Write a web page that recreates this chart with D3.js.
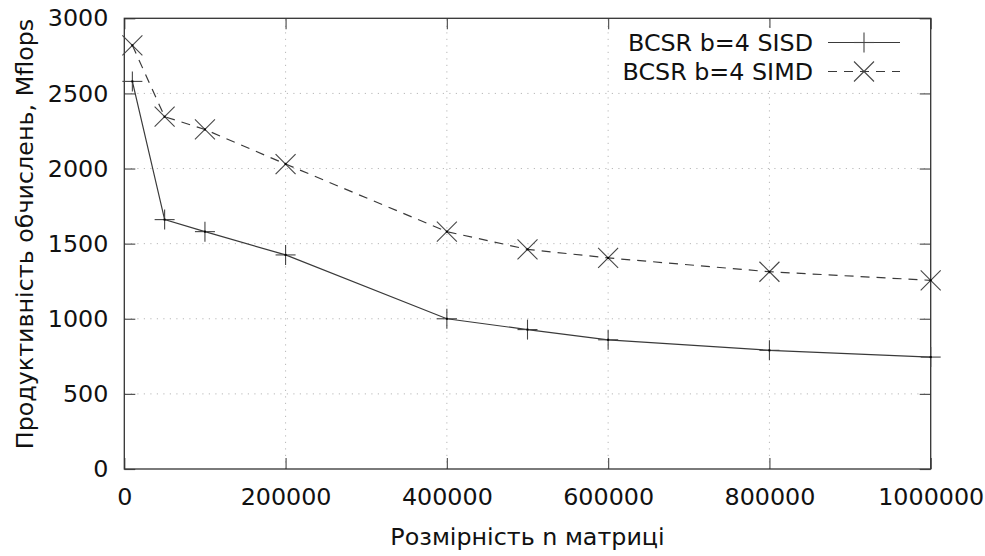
<!DOCTYPE html>
<html><head><meta charset="utf-8">
<script src="https://cdn.jsdelivr.net/npm/d3@7"></script>
<style>
html,body{margin:0;padding:0;background:#fff;}
svg{display:block;font-family:"DejaVu Sans",sans-serif;}
</style></head>
<body>
<svg id="chart" width="985" height="556"></svg>
<script>
const sizes = [10000, 50000, 100000, 200000, 400000, 500000, 600000, 800000, 1000000];
const sisd  = [2580, 1660, 1580, 1425, 1000, 928, 860, 790, 745];
const simd  = [2820, 2345, 2260, 2030, 1580, 1462, 1405, 1313, 1256];
const xTicks = [0, 200000, 400000, 600000, 800000, 1000000];
const yTicks = [0, 500, 1000, 1500, 2000, 2500, 3000];
const seriesNames = ["BCSR b=4 SISD", "BCSR b=4 SIMD"];
const xTitle = "Розмірність n матриці";
const yTitle = "Продуктивність обчислень, Mflops";

const svg = d3.select("#chart");
const L = 124.3, R = 930.7, T = 18.3, B = 469;
const x = d3.scaleLinear().domain([0, 1000000]).range([L, R]);
const y = d3.scaleLinear().domain([0, 3000]).range([B, T]);
const fs = 23.8;
const axisCol = "#333";

// grid
const grid = svg.append("g").attr("stroke", "#b8b8b8").attr("stroke-width", 1).attr("stroke-dasharray", "1.2,5.3");
xTicks.filter(t => t > 0 && t < 1000000).forEach(t => {
  grid.append("line").attr("x1", x(t)).attr("x2", x(t)).attr("y1", B).attr("y2", T);
});
yTicks.filter(t => t > 0 && t < 3000).forEach(t => {
  grid.append("line").attr("x1", L).attr("x2", R).attr("y1", y(t)).attr("y2", y(t));
});

// axes via d3 (ticks inward, mirrored)
const tk = 11;
const ax = svg.append("g");
function styleAxis(g) {
  g.select(".domain").remove();
  g.selectAll(".tick line").attr("stroke", "#555").attr("stroke-width", 1.2);
  g.selectAll(".tick text").attr("font-size", fs).attr("fill", "#111").attr("font-family", "DejaVu Sans");
}
ax.append("g").attr("transform", `translate(0,${B})`)
  .call(d3.axisBottom(x).tickValues(xTicks).tickFormat(d3.format("d")).tickSizeInner(-tk).tickSizeOuter(0).tickPadding(tk + 8))
  .call(styleAxis)
  .selectAll(".tick text").attr("dy", "0.71em");
ax.append("g").attr("transform", `translate(0,${T})`)
  .call(d3.axisTop(x).tickValues(xTicks).tickFormat("").tickSizeInner(-tk).tickSizeOuter(0))
  .call(styleAxis);
ax.append("g").attr("transform", `translate(${L},0)`)
  .call(d3.axisLeft(y).tickValues(yTicks).tickFormat(d3.format("d")).tickSizeInner(-tk).tickSizeOuter(0).tickPadding(tk + 5))
  .call(styleAxis);
ax.append("g").attr("transform", `translate(${R},0)`)
  .call(d3.axisRight(y).tickValues(yTicks).tickFormat("").tickSizeInner(-tk).tickSizeOuter(0))
  .call(styleAxis);

// border
svg.append("rect").attr("x", L).attr("y", T).attr("width", R - L).attr("height", B - T)
  .attr("fill", "none").attr("stroke", axisCol).attr("stroke-width", 1.3);

// titles
svg.append("text").attr("x", (L + R) / 2).attr("y", 545).attr("text-anchor", "middle")
  .attr("font-size", fs).attr("fill", "#111").text(xTitle);
svg.append("text").attr("transform", `translate(33,${234}) rotate(-90)`).attr("text-anchor", "middle")
  .attr("font-size", fs).attr("fill", "#111").text(yTitle);

// lines
const lineGen = d3.line().x(d => x(d[0])).y(d => y(d[1]));
const dSisd = sizes.map((s, i) => [s, sisd[i]]);
const dSimd = sizes.map((s, i) => [s, simd[i]]);
const lineCol = "#3a3a3a";
svg.append("path").attr("d", lineGen(dSimd)).attr("fill", "none").attr("stroke", lineCol)
  .attr("stroke-width", 1.2).attr("stroke-dasharray", "9,7");
svg.append("path").attr("d", lineGen(dSisd)).attr("fill", "none").attr("stroke", lineCol)
  .attr("stroke-width", 1.2);

const h = 10;
function plus(g, cx, cy) {
  g.append("line").attr("x1", cx - h).attr("x2", cx + h).attr("y1", cy).attr("y2", cy);
  g.append("line").attr("x1", cx).attr("x2", cx).attr("y1", cy - h).attr("y2", cy + h);
}
function cross(g, cx, cy) {
  g.append("line").attr("x1", cx - h).attr("x2", cx + h).attr("y1", cy - h).attr("y2", cy + h);
  g.append("line").attr("x1", cx - h).attr("x2", cx + h).attr("y1", cy + h).attr("y2", cy - h);
}
const mk = svg.append("g").attr("stroke", "#444").attr("stroke-width", 1.1);
dSisd.forEach(d => plus(mk, x(d[0]), y(d[1])));
dSimd.forEach(d => cross(mk, x(d[0]), y(d[1])));
const dots = svg.append("g").attr("fill", "#000");
dSisd.concat(dSimd).forEach(d => dots.append("rect").attr("x", x(d[0]) - 1).attr("y", y(d[1]) - 1).attr("width", 2).attr("height", 2));

// legend
const lg = svg.append("g");
lg.append("rect").attr("x", 613).attr("y", 28).attr("width", 312).attr("height", 60).attr("fill", "#fff");
const rows = [42.5, 71.5];
seriesNames.forEach((n, i) => {
  lg.append("text").attr("x", 813).attr("y", rows[i]).attr("dy", "0.35em").attr("text-anchor", "end")
    .attr("font-size", fs).attr("fill", "#111").text(n);
  const ln = lg.append("line").attr("x1", 828).attr("x2", 900).attr("y1", rows[i]).attr("y2", rows[i])
    .attr("stroke", lineCol).attr("stroke-width", 1.2);
  const g = lg.append("g").attr("stroke", "#444").attr("stroke-width", 1.1);
  if (i === 0) { plus(g, 864, rows[i]); }
  else { ln.attr("stroke-dasharray", "9,7").attr("stroke-dashoffset", 0); cross(g, 864, rows[i]); }
});
</script>
</body></html>
